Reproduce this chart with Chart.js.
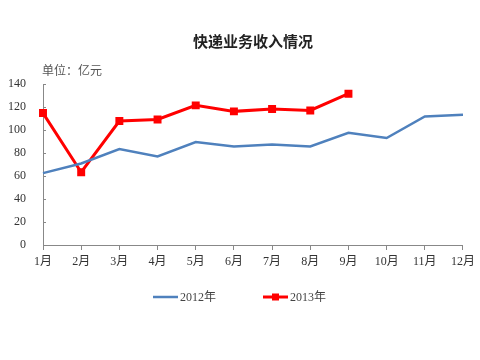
<!DOCTYPE html>
<html><head><meta charset="utf-8">
<script src="https://cdn.jsdelivr.net/npm/chart.js@4"></script>
<style>html,body{margin:0;padding:0;background:#fff;}#wrap{position:relative;width:480px;height:360px;}</style>
</head><body><div id="wrap"><canvas id="c" width="480" height="360"></canvas></div>
<script>
const categories = ['1月','2月','3月','4月','5月','6月','7月','8月','9月','10月','11月','12月'];
const series2012 = [62.5, 70.9, 83.4, 77, 89.5, 85.7, 87.4, 85.7, 97.6, 93, 111.8, 113.3];
const series2013 = [114.7, 63.3, 107.8, 109.2, 121.4, 116.2, 118.2, 117, 131.6, null, null, null];
const seriesNames = ['2012年', '2013年'];
const titleText = '快递业务收入情况';
const unitText = '单位：亿元';

const serif = "'Liberation Serif','Noto Sans CJK SC',serif";
const cjk = "'Noto Sans CJK SC','Liberation Serif',sans-serif";

const overlay = {
  id: 'overlay',
  afterDraw(chart) {
    const ctx = chart.ctx, ca = chart.chartArea;
    ctx.save();
    // inward y ticks
    const ys = chart.scales.y;
    ctx.strokeStyle = '#888'; ctx.lineWidth = 1;
    ys.ticks.forEach(t => {
      const py = Math.round(ys.getPixelForValue(t.value)) + 0.5;
      ctx.beginPath(); ctx.moveTo(ca.left, py); ctx.lineTo(ca.left + 3, py); ctx.stroke();
    });
    ctx.fillStyle = '#222';
    ctx.font = "bold 15px " + cjk;
    ctx.textAlign = 'center'; ctx.textBaseline = 'middle';
    ctx.fillText(titleText, (ca.left + ca.right) / 2, 41);
    ctx.fillStyle = '#555';
    ctx.font = "12px " + cjk;
    ctx.textAlign = 'left';
    ctx.fillText(unitText, 42, 70);
    // legend
    const ds = chart.data.datasets;
    const items = [{x: 153}, {x: 263}];
    const y = 297;
    ds.forEach((d, i) => {
      const x = items[i].x;
      ctx.strokeStyle = d.borderColor; ctx.lineWidth = d.borderWidth;
      ctx.beginPath(); ctx.moveTo(x, y); ctx.lineTo(x + 25, y); ctx.stroke();
      if (d.pointRadius > 0) {
        ctx.fillStyle = d.pointBackgroundColor;
        ctx.fillRect(x + 12.5 - 3.5, y - 3.5, 7, 7);
      }
      ctx.fillStyle = '#444';
      ctx.font = "12px " + serif;
      ctx.textAlign = 'left'; ctx.textBaseline = 'middle';
      ctx.fillText(d.label, x + 27, y + 1);
    });
    ctx.restore();
  }
};

new Chart(document.getElementById('c'), {
  type: 'line',
  data: {
    labels: categories,
    datasets: [
      { label: seriesNames[0], data: series2012, borderColor: '#4F81BD', backgroundColor: '#4F81BD', borderWidth: 2.5, pointRadius: 0, tension: 0, spanGaps: false },
      { label: seriesNames[1], data: series2013, borderColor: '#FF0000', backgroundColor: '#FF0000', pointBackgroundColor: '#FF0000', pointBorderColor: '#FF0000', borderWidth: 3, pointStyle: 'rect', pointRadius: 3.5, tension: 0, spanGaps: false }
    ]
  },
  options: {
    responsive: false, animation: false,
    layout: { padding: { left: 0, right: 14, top: 84, bottom: 85 } },
    plugins: { legend: { display: false }, title: { display: false }, tooltip: { enabled: false } },
    scales: {
      x: {
        offset: false,
        grid: { display: true, drawOnChartArea: false, drawTicks: true, tickLength: 5, color: '#888' },
        border: { display: true, color: '#888', width: 1 },
        ticks: { color: '#333', font: { size: 12, family: serif }, padding: 5, maxRotation: 0, autoSkip: false },
        afterFit(s) { s.height = 30; }
      },
      y: {
        min: 0, max: 140,
        grid: { display: false, drawOnChartArea: false, drawTicks: false },
        border: { display: true, color: '#888', width: 1 },
        ticks: { stepSize: 20, color: '#333', font: { size: 12, family: serif }, padding: 17 },
        afterFit(s) { s.width = 43; }
      }
    }
  },
  plugins: [overlay]
});
</script></body></html>
